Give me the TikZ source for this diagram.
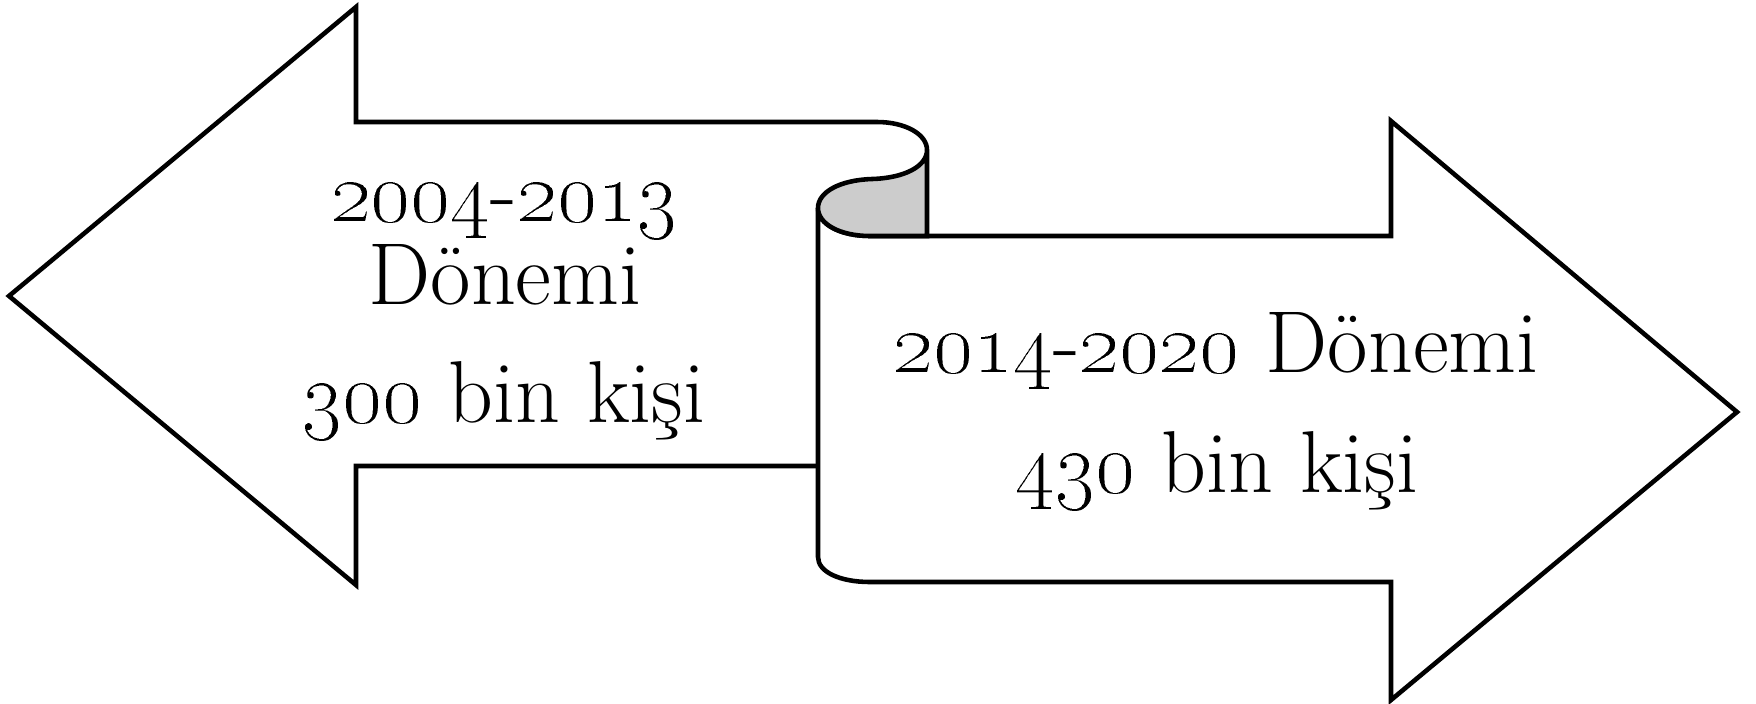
\documentclass[tikz,border=0pt]{standalone}
\begin{document}
\begin{tikzpicture}[x=0.1mm,y=-0.1mm,
  outline/.style={draw=black,line width=1.3pt,line join=miter},
  label/.style={anchor=base,inner sep=0pt,font=\fontsize{25}{30}\selectfont}]
\useasboundingbox (0,0) rectangle (1756,703);
% left arrow
\draw[outline] (819,466) -- (356,466) -- (356,585) -- (9,296) -- (356,7) -- (356,122)
  -- (877,122) .. controls (905,122) and (927,134) .. (927,150);
% right arrow body
\draw[outline,fill=white] (818,208) -- (818,557) .. controls (818,572) and (840,582) .. (870,582)
  -- (1391,582) -- (1391,700) -- (1737,412) -- (1391,121) -- (1391,236) -- (870,236)
  .. controls (840,236) and (818,224) .. (818,208) -- cycle;
% shaded curl
\draw[outline,fill=gray!40] (818,208) .. controls (818,192) and (840,180) .. (872,179)
  .. controls (905,178) and (927,166) .. (927,150) -- (927,236) -- (870,236)
  .. controls (840,236) and (818,224) .. (818,208) -- cycle;
% texts
\node[label] (l1) at (504,221) {\oldstylenums{2004}-\oldstylenums{2013}};
\node[label] (l2) at (505,304) {Dönemi};
\node[label] (l3) at (504,422) {\oldstylenums{300} bin kişi};
\node[label] (r1) at (1216,372) {\oldstylenums{2014}-\oldstylenums{2020} Dönemi};
\node[label] (r2) at (1217,492) {\oldstylenums{430} bin kişi};
\end{tikzpicture}
\end{document}
